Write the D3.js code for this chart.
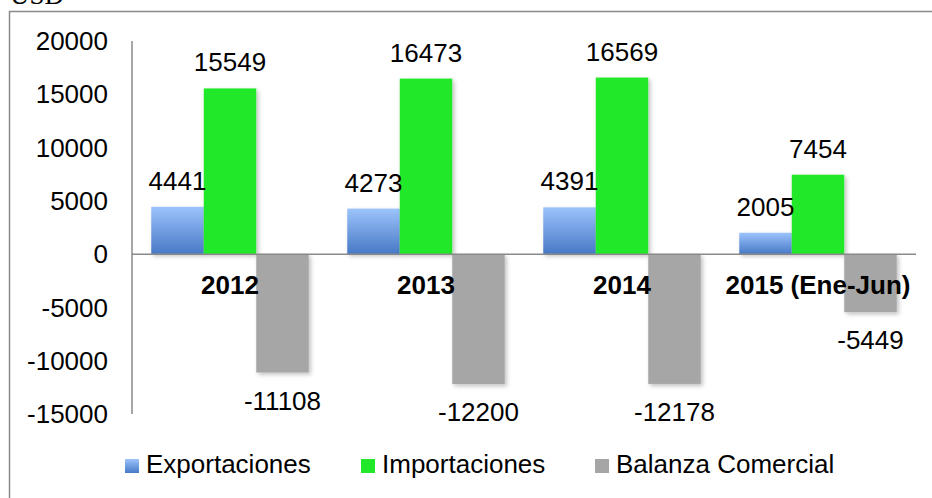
<!DOCTYPE html>
<html>
<head>
<meta charset="utf-8">
<script src="https://cdn.jsdelivr.net/npm/d3@7"></script>
<style>
  body { margin: 0; background: #fff; }
  svg { display: block; }
  text { font-family: "Liberation Sans", Arial, sans-serif; }
</style>
</head>
<body>
<div id="chart"></div>
<script>
// chart data
const categories = ["2012", "2013", "2014", "2015 (Ene-Jun)"];
const seriesNames = ["Exportaciones", "Importaciones", "Balanza Comercial"];
const exportaciones = [4441, 4273, 4391, 2005];
const importaciones = [15549, 16473, 16569, 7454];
const balanza = [-11108, -12200, -12178, -5449];
const yTicks = [20000, 15000, 10000, 5000, 0, -5000, -10000, -15000];

const width = 932, height = 498;
const margin = { top: 41, left: 132, right: 16, bottom: 84 };

const svg = d3.select("#chart").append("svg")
  .attr("width", width)
  .attr("height", height);

const defs = svg.append("defs");
const grad = defs.append("linearGradient")
  .attr("id", "blueGrad")
  .attr("x1", 0).attr("y1", 0).attr("x2", 0).attr("y2", 1);
grad.append("stop").attr("offset", "0%").attr("stop-color", "#9cc3fb");
grad.append("stop").attr("offset", "100%").attr("stop-color", "#4779c6");

const shadow = defs.append("filter").attr("id", "shadow")
  .attr("x", "-20%").attr("y", "-20%").attr("width", "140%").attr("height", "140%");
shadow.append("feDropShadow")
  .attr("dx", 2).attr("dy", 2).attr("stdDeviation", 2)
  .attr("flood-color", "#000").attr("flood-opacity", 0.25);

const colors = ["url(#blueGrad)", "#22e82a", "#a6a6a6"];

// outer frame (runs off the right and bottom)
svg.append("rect")
  .attr("x", 9.5).attr("y", 11.5)
  .attr("width", 940).attr("height", 500)
  .attr("fill", "none")
  .attr("stroke", "#8a8a8a")
  .attr("stroke-width", 1.5);

svg.append("text")
  .attr("x", 10).attr("y", 4)
  .style("font-family", "'Liberation Serif', 'Times New Roman', serif")
  .style("font-size", "27px")
  .text("USD");

const x0 = d3.scaleBand()
  .domain(categories)
  .range([margin.left, width - margin.right]);

const x1 = d3.scaleBand()
  .domain(seriesNames)
  .range([0, x0.bandwidth()])
  .paddingOuter(0.367);

const y = d3.scaleLinear()
  .domain([-15000, 20000])
  .range([414, 41]);

// y axis
svg.append("line")
  .attr("x1", margin.left).attr("x2", margin.left)
  .attr("y1", y(20000)).attr("y2", y(-15000))
  .attr("stroke", "#8a8a8a").attr("stroke-width", 1.5);

svg.selectAll(".ytick")
  .data(yTicks)
  .join("text")
  .attr("class", "ytick")
  .attr("x", 108)
  .attr("y", d => y(d))
  .attr("dy", "0.35em")
  .attr("text-anchor", "end")
  .style("font-size", "26px")
  .text(d => d);

const rows = categories.map((c, i) => ({
  category: c,
  values: [exportaciones[i], importaciones[i], balanza[i]]
}));

const bars = [];
rows.forEach(r => {
  r.values.forEach((v, j) => bars.push({ category: r.category, series: seriesNames[j], idx: j, value: v }));
});

svg.selectAll(".bar")
  .data(bars)
  .join("rect")
  .attr("class", "bar")
  .attr("x", d => x0(d.category) + x1(d.series))
  .attr("width", x1.bandwidth())
  .attr("y", d => y(Math.max(0, d.value)))
  .attr("height", d => Math.abs(y(d.value) - y(0)))
  .attr("fill", d => colors[d.idx])
  .attr("filter", "url(#shadow)");

// zero line
svg.append("line")
  .attr("x1", margin.left).attr("x2", width - margin.right)
  .attr("y1", y(0)).attr("y2", y(0))
  .attr("stroke", "#8a8a8a").attr("stroke-width", 1.5);

// category labels
svg.selectAll(".cat")
  .data(categories)
  .join("text")
  .attr("class", "cat")
  .attr("x", d => x0(d) + x0.bandwidth() / 2)
  .attr("y", y(0) + 40)
  .attr("text-anchor", "middle")
  .style("font-size", "26px")
  .style("font-weight", "bold")
  .text(d => d);

// value labels
svg.selectAll(".val")
  .data(bars)
  .join("text")
  .attr("class", "val")
  .attr("x", d => x0(d.category) + x1(d.series) + x1.bandwidth() / 2)
  .attr("y", d => d.value >= 0 ? y(d.value) - 17 : y(d.value) + 37)
  .attr("text-anchor", "middle")
  .style("font-size", "26px")
  .text(d => d.value);

// legend
const legendX = [125, 361, 595];
const legend = svg.selectAll(".legend")
  .data(seriesNames)
  .join("g")
  .attr("class", "legend")
  .attr("transform", (d, i) => `translate(${legendX[i]},459)`);

legend.append("rect")
  .attr("width", 14).attr("height", 14)
  .attr("fill", (d, i) => colors[i]);

legend.append("text")
  .attr("x", 21)
  .attr("y", 14)
  .style("font-size", "26px")
  .text(d => d);
</script>
</body>
</html>
